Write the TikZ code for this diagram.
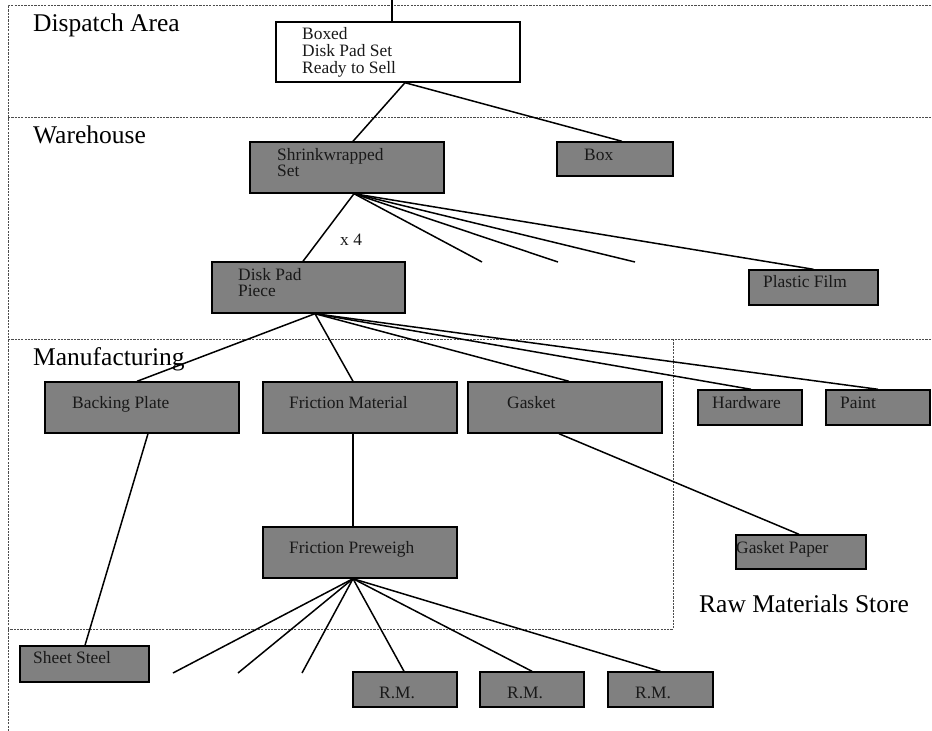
\documentclass[tikz,border=0pt]{standalone}
\usepackage{fontspec}
\setmainfont{Liberation Serif}
\begin{document}
\begin{tikzpicture}[x=1pt,y=-1pt,
  zone/.style={draw=black!70,line width=0.9pt,dash pattern=on 2.2pt off 1.1pt},
  item/.style={draw=black,line width=1.4pt,fill=black!50,inner sep=0pt},
  plainitem/.style={item,fill=white},
  txt/.style={inner sep=0pt,anchor=base west,align=left,text=black!90,
    font=\fontsize{17.4}{16}\selectfont},
  area/.style={inner sep=0pt,anchor=base west,font=\fontsize{25.5}{25}\selectfont},
  link/.style={line width=1.5pt}]
\useasboundingbox (0,0) rectangle (932,731);

% storage areas
\draw[zone] (8,731) -- (8,5) -- (932,5);
\draw[zone] (8,117) -- (932,117);
\draw[zone] (8,339) -- (932,339);
\draw[zone] (673,339) -- (673,629) -- (8,629);

\node[area] (a-dispatch) at (33,31) {Dispatch Area};
\node[area] (a-ware) at (33,143) {Warehouse};
\node[area] (a-manu) at (33,365) {Manufacturing};
\node[area] (a-raw) at (699,612) {Raw Materials Store};

% item boxes
\node[plainitem,minimum width=244,minimum height=60] (boxed) at (398,52) {};
\node[item,minimum width=194,minimum height=51] (shrink) at (347,167.5) {};
\node[item,minimum width=116,minimum height=34] (box) at (615,159) {};
\node[item,minimum width=193,minimum height=51] (piece) at (308.5,287.5) {};
\node[item,minimum width=129,minimum height=35] (film) at (813.5,287.5) {};
\node[item,minimum width=194,minimum height=51] (backing) at (142,407.5) {};
\node[item,minimum width=194,minimum height=51] (fricmat) at (360,407.5) {};
\node[item,minimum width=194,minimum height=51] (gasket) at (565,407.5) {};
\node[item,minimum width=104,minimum height=35] (hardware) at (750,407.5) {};
\node[item,minimum width=104,minimum height=35] (paint) at (878,407.5) {};
\node[item,minimum width=130,minimum height=34] (gpaper) at (801,552) {};
\node[item,minimum width=194,minimum height=51] (prewgh) at (360,552.5) {};
\node[item,minimum width=129,minimum height=36] (steel) at (84.5,664) {};
\node[item,minimum width=104,minimum height=35] (rm1) at (405,689.5) {};
\node[item,minimum width=104,minimum height=35] (rm2) at (532,689.5) {};
\node[item,minimum width=105,minimum height=35] (rm3) at (660.5,689.5) {};

% item labels (multi-line labels sit on their last baseline)
\node[txt,font=\fontsize{17.4}{17}\selectfont] (t-boxed) at (302,73) {Boxed\\Disk Pad Set\\Ready to Sell};
\node[txt] (t-shrink) at (277,176) {Shrinkwrapped\\Set};
\node[txt] (t-box) at (584,160) {Box};
\node[txt] (t-piece) at (238,296) {Disk Pad\\Piece};
\node[txt] (t-film) at (763,287) {Plastic Film};
\node[txt] (t-backing) at (72,408) {Backing Plate};
\node[txt] (t-fricmat) at (289,408) {Friction Material};
\node[txt] (t-gasket) at (507,408) {Gasket};
\node[txt] (t-hardware) at (712,408) {Hardware};
\node[txt] (t-paint) at (840,408) {Paint};
\node[txt] (t-gpaper) at (736,553) {Gasket Paper};
\node[txt] (t-prewgh) at (289,553) {Friction Preweigh};
\node[txt] (t-steel) at (33,663) {Sheet Steel};
\node[txt] (t-rm1) at (379,698) {R.M.};
\node[txt] (t-rm2) at (507,698) {R.M.};
\node[txt] (t-rm3) at (635,698) {R.M.};
\node[txt] (t-x4) at (340,245) {x 4};

% open ends of the bill of materials
\coordinate (top) at (392,0);
\coordinate (s1) at (482,262);
\coordinate (s2) at (558,262);
\coordinate (s3) at (635,262);
\coordinate (p1) at (173,673);
\coordinate (p2) at (238,673);
\coordinate (p3) at (302,673);

% connectors
\draw[link] (top) -- (top |- boxed.north);
\draw[link] ([xshift=7]boxed.south) -- ([xshift=6]shrink.north);
\draw[link] ([xshift=7]boxed.south) -- ([xshift=7]box.north);
\draw[link] ([xshift=7]shrink.south) -- ([xshift=-5.5]piece.north);
\draw[link] ([xshift=7]shrink.south) -- (s1);
\draw[link] ([xshift=7]shrink.south) -- (s2);
\draw[link] ([xshift=7]shrink.south) -- (s3);
\draw[link] ([xshift=7]shrink.south) -- (film.north);
\draw[link] ([xshift=6.5]piece.south) -- ([xshift=-5]backing.north);
\draw[link] ([xshift=6.5]piece.south) -- ([xshift=-7]fricmat.north);
\draw[link] ([xshift=6.5]piece.south) -- ([xshift=4]gasket.north);
\draw[link] ([xshift=6.5]piece.south) -- ([xshift=1]hardware.north);
\draw[link] ([xshift=6.5]piece.south) -- (paint.north);
\draw[link] ([xshift=6]backing.south) -- ([xshift=0.5]steel.north);
\draw[link] ([xshift=-7]fricmat.south) -- ([xshift=-7]prewgh.north);
\draw[link] ([xshift=-6]gasket.south) -- ([xshift=-2]gpaper.north);
\draw[link] ([xshift=-7]prewgh.south) -- (p1);
\draw[link] ([xshift=-7]prewgh.south) -- (p2);
\draw[link] ([xshift=-7]prewgh.south) -- (p3);
\draw[link] ([xshift=-7]prewgh.south) -- ([xshift=-1]rm1.north);
\draw[link] ([xshift=-7]prewgh.south) -- (rm2.north);
\draw[link] ([xshift=-7]prewgh.south) -- (rm3.north);
\end{tikzpicture}
\end{document}
